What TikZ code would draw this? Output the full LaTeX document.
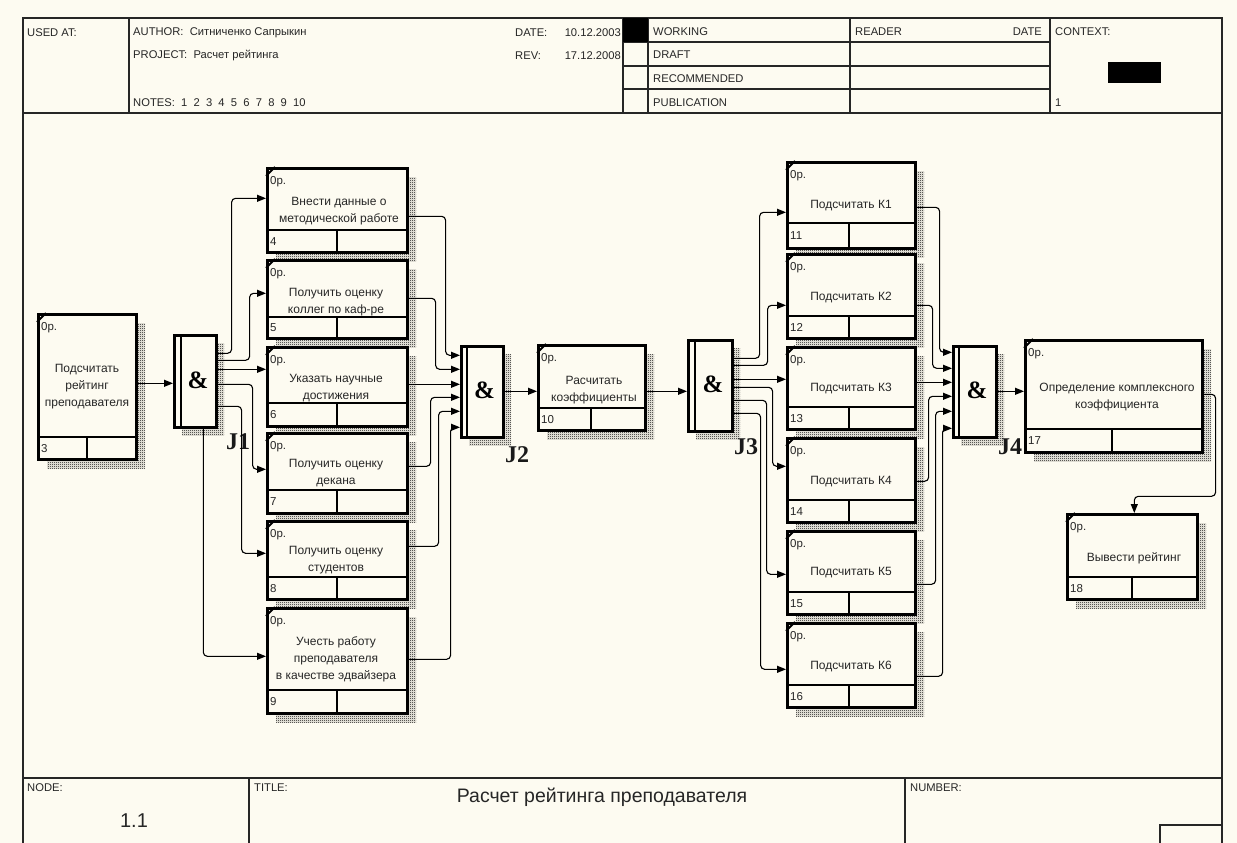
\documentclass[tikz,border=0pt]{standalone}
\usepackage{fontspec}
\setmainfont{Liberation Sans}
\newfontfamily\jserif{Liberation Serif}
\usetikzlibrary{arrows.meta,patterns}
\definecolor{bg}{HTML}{FDFBF1}
\newcommand{\lblfont}{\fontsize{12}{17}\selectfont}
\newcommand{\hdrfont}{\fontsize{11.2}{12}\selectfont}
\pgfdeclarepatternformonly{finechecker}{\pgfpointorigin}{\pgfpoint{2pt}{2pt}}{\pgfpoint{2pt}{2pt}}{%
  \pgfpathrectangle{\pgfpointorigin}{\pgfpoint{1pt}{1pt}}%
  \pgfpathrectangle{\pgfpoint{1pt}{1pt}}{\pgfpoint{1pt}{1pt}}%
  \pgfusepath{fill}}
\tikzset{
  frameline/.style={line width=1.3pt, draw=black!85},
  boxst/.style={draw, line width=2.6pt, fill=bg, inner sep=0pt, rectangle},
  inline/.style={line width=2.2pt},
  tickst/.style={line width=1.8pt},
  shadowpat/.style={pattern=finechecker, pattern color=black},
  conn/.style={line width=1.1pt, rounded corners=4pt, -{Triangle[length=9pt,width=7pt]}},
  lbl/.style={font=\lblfont, align=center, text=black!85, inner sep=0pt},
  smalltxt/.style={font=\fontsize{11.5}{12}\selectfont, text=black!85, inner sep=0pt},
  hdr/.style={font=\hdrfont, text=black!85, inner sep=0pt},
  amp/.style={font=\jserif\bfseries\fontsize{25}{25}\selectfont, inner sep=0pt},
  jlab/.style={font=\jserif\bfseries\fontsize{24}{24}\selectfont, inner sep=0pt, text=black!90},
}
% #1 name, #2 x0, #3 y0, #4 x1, #5 y1, #6 strip y, #7 divider x, #8 number
\newcommand{\idefbox}[8]{%
  \fill[shadowpat] (#2+10,#3+10) rectangle (#4+10,#5+10);
  \node[boxst, minimum width={(#4-#2)*1pt}, minimum height={(#5-#3)*1pt}, anchor=north west] (#1) at (#2,#3) {};
  \draw[inline] (#2,#6) -- (#4,#6) (#7,#6) -- (#7,#5);
  \draw[tickst] (#2,#3+9) -- (#2+9,#3);
  \node[smalltxt, anchor=west] (#1o) at (#2+4,#3+15) {0р.};
  \node[smalltxt, anchor=west] (#1n) at (#2+4,{(#6+#5)/2+1}) {#8};
}
% #1 name, #2 x0, #3 y0, #4 x1, #5 y1, #6 inner line x
\newcommand{\junction}[6]{%
  \fill[shadowpat] (#2+9,#3+9) rectangle (#4+9,#5+9);
  \node[boxst, minimum width={(#4-#2)*1pt}, minimum height={(#5-#3)*1pt}, anchor=north west] (#1) at (#2,#3) {};
  \draw[inline] (#6,#3) -- (#6,#5);
  \node[amp] (#1a) at ({(#6+#4)/2},{(#3+#5)/2}) {\&};
}
\begin{document}
\begin{tikzpicture}[x=1pt,y=-1pt]
\useasboundingbox (0,0) rectangle (1237,843);
\fill[bg] (0,0) rectangle (1237,843);
% ---------- frame ----------
\draw[frameline] (23,843) -- (23,18) -- (1222,18) -- (1222,843);
\draw[frameline] (23,113) -- (1222,113);
\draw[frameline] (129,18) -- (129,113);
\draw[frameline] (623,18) -- (623,113) (648,18) -- (648,113) (850,18) -- (850,113) (1050,18) -- (1050,113);
\draw[frameline] (623,42) -- (1050,42) (623,66) -- (1050,66) (623,89) -- (1050,89);
\fill (623,18) rectangle (648,42);
\fill (1108,62) rectangle (1161,83);
\draw[frameline] (23,778) -- (1222,778);
\draw[frameline] (249,778) -- (249,843) (905,778) -- (905,843);
\draw[frameline] (1160,843) -- (1160,825) -- (1222,825);
% ---------- header texts ----------
\node[hdr, anchor=west] (hused) at (27,33) {USED AT:};
\node[hdr, anchor=west] (hauth) at (133,33) {AUTHOR:\ \ Ситниченко Сапрыкин};
\node[hdr, anchor=west] (hproj) at (133,56) {PROJECT:\ \ Расчет рейтинга};
\node[hdr, anchor=west] (hnotes) at (133,103) {NOTES:\ \ 1\ \ 2\ \ 3\ \ 4\ \ 5\ \ 6\ \ 7\ \ 8\ \ 9\ \ 10};
\node[hdr, anchor=west] (hdate) at (515,33) {DATE:};
\node[hdr, anchor=east] (hdatev) at (621,33) {10.12.2003};
\node[hdr, anchor=west] (hrev) at (515,56) {REV:};
\node[hdr, anchor=east] (hrevv) at (621,56) {17.12.2008};
\node[hdr, anchor=west] (hwork) at (653,32) {WORKING};
\node[hdr, anchor=west] (hdraft) at (653,55) {DRAFT};
\node[hdr, anchor=west] (hrec) at (653,79) {RECOMMENDED};
\node[hdr, anchor=west] (hpub) at (653,103) {PUBLICATION};
\node[hdr, anchor=west] (hread) at (855,32) {READER};
\node[hdr, anchor=east] (hrdate) at (1042,32) {DATE};
\node[hdr, anchor=west] (hctx) at (1055,32) {CONTEXT:};
\node[hdr, anchor=west] (hctxn) at (1055,103) {1};
% ---------- footer texts ----------
\node[hdr, anchor=west] (fnode) at (27,788) {NODE:};
\node[font=\fontsize{20}{20}\selectfont, text=black!85, inner sep=0pt] (fnodev) at (134,821) {1.1};
\node[hdr, anchor=west] (ftitle) at (254,788) {TITLE:};
\node[font=\fontsize{19.5}{20}\selectfont, text=black!85, inner sep=0pt] (ftitlev) at (602,797) {Расчет рейтинга преподавателя};
\node[hdr, anchor=west] (fnum) at (910,788) {NUMBER:};
% ---------- activity boxes ----------
\idefbox{b3}{37}{313}{135}{458}{437}{87}{3}
\idefbox{b4}{266}{167}{406}{251}{230}{337}{4}
\idefbox{b5}{266}{259}{406}{337}{317}{337}{5}
\idefbox{b6}{266}{346}{406}{425}{403}{337}{6}
\idefbox{b7}{266}{432}{406}{512}{490}{337}{7}
\idefbox{b8}{266}{520}{406}{598}{577}{337}{8}
\idefbox{b9}{266}{607}{406}{712}{690}{337}{9}
\idefbox{b10}{537}{344}{644}{429}{408}{591}{10}
\idefbox{k1}{786}{161}{914}{247}{223}{849}{11}
\idefbox{k2}{786}{253}{914}{337}{316}{849}{12}
\idefbox{k3}{786}{346}{914}{428}{407}{849}{13}
\idefbox{k4}{786}{437}{914}{521}{500}{849}{14}
\idefbox{k5}{786}{530}{914}{613}{592}{849}{15}
\idefbox{k6}{786}{622}{914}{706}{685}{849}{16}
\idefbox{b17}{1024}{339}{1201}{451}{429}{1112}{17}
\idefbox{b18}{1066}{513}{1196}{598}{577}{1132}{18}
% ---------- box labels ----------
\node[lbl] (b3t) at (87,387) {Подсчитать\\рейтинг\\преподавателя};
\node[lbl] (b4t) at (339,211) {Внести данные о\\методической работе};
\node[lbl] (b5t) at (336,302) {Получить оценку\\коллег по каф-ре};
\node[lbl] (b6t) at (336,388.5) {Указать научные\\достижения};
\node[lbl] (b7t) at (336,473.5) {Получить оценку\\декана};
\node[lbl] (b8t) at (336,560) {Получить оценку\\студентов};
\node[lbl] (b9t) at (336,659.5) {Учесть работу\\преподавателя\\в качестве эдвайзера};
\node[lbl] (b10t) at (594,390) {Расчитать\\коэффициенты};
\node[lbl] (k1t) at (851,206) {Подсчитать К1};
\node[lbl] (k2t) at (851,298) {Подсчитать К2};
\node[lbl] (k3t) at (851,389) {Подсчитать К3};
\node[lbl] (k4t) at (851,482) {Подсчитать К4};
\node[lbl] (k5t) at (851,573) {Подсчитать К5};
\node[lbl] (k6t) at (851,666) {Подсчитать К6};
\node[lbl] (b17t) at (1117,397) {Определение комплексного\\коэффициента};
\node[lbl] (b18t) at (1134,558) {Вывести рейтинг};
% ---------- junctions ----------
\junction{j1}{173}{334}{215}{426}{181}
\junction{j2}{460}{345}{502}{436}{467}
\junction{j3}{687}{339}{731}{430}{695}
\junction{j4}{952}{345}{995}{436}{959}
\node[jlab] (j1l) at (238,442) {J1};
\node[jlab] (j2l) at (517,455) {J2};
\node[jlab] (j3l) at (746,447) {J3};
\node[jlab] (j4l) at (1010,447) {J4};
% ---------- connectors ----------
\draw[conn] ([yshift=3.5pt]b3.east) -- ([yshift=-2pt]j1.west);
\draw[conn] ([yshift=28pt]j1.east) -- ++(14,0) |- ([yshift=12pt]b4.west);
\draw[conn] ([yshift=21pt]j1.east) -- ++(32,0) |- ([yshift=6pt]b5.west);
\draw[conn] ([yshift=12pt]j1.east) -- ([yshift=17.5pt]b6.west);
\draw[conn] ([yshift=-3pt]j1.east) -- ++(35,0) |- ([yshift=4pt]b7.west);
\draw[conn] ([yshift=-25pt]j1.east) -- ++(24,0) |- ([yshift=7pt]b8.west);
\draw[conn] ([xshift=8pt]j1.south) |- ([yshift=4.5pt]b9.west);
\draw[conn] ([yshift=-6pt]b4.east) -- ++(37,0) |- ([yshift=36.5pt]j2.west);
\draw[conn] ([yshift=1pt]b5.east) -- ++(27,0) |- ([yshift=22.5pt]j2.west);
\draw[conn] ([yshift=2.5pt]b6.east) -- ([yshift=7.5pt]j2.west);
\draw[conn] ([yshift=7pt]b7.east) -- ++(22,0) |- ([yshift=-5.5pt]j2.west);
\draw[conn] ([yshift=14pt]b8.east) -- ++(30,0) |- ([yshift=-19.5pt]j2.west);
\draw[conn] ([yshift=1.5pt]b9.east) -- ++(42,0) |- ([yshift=-35.5pt]j2.west);
\draw[conn] ([yshift=0.5pt]j2.east) -- ([yshift=-3.5pt]b10.west);
\draw[conn] ([yshift=-3.5pt]b10.east) -- ([yshift=-5.5pt]j3.west);
\draw[conn] ([yshift=27.5pt]j3.east) -- ++(26,0) |- ([yshift=-7pt]k1.west);
\draw[conn] ([yshift=20.5pt]j3.east) -- ++(34,0) |- ([yshift=-9pt]k2.west);
\draw[conn] ([yshift=6.5pt]j3.east) -- ([yshift=9pt]k3.west);
\draw[conn] ([yshift=-1.5pt]j3.east) -- ++(39,0) |- ([yshift=14pt]k4.west);
\draw[conn] ([yshift=-14.5pt]j3.east) -- ++(33,0) |- ([yshift=-1.5pt]k5.west);
\draw[conn] ([yshift=-27.5pt]j3.east) -- ++(27,0) |- ([yshift=-4pt]k6.west);
\draw[conn] ([yshift=-2pt]k1.east) -- ++(23,0) |- ([yshift=39.5pt]j4.west);
\draw[conn] ([yshift=-9pt]k2.east) -- ++(16,0) |- ([yshift=23.5pt]j4.west);
\draw[conn] ([yshift=6pt]k3.east) -- ([yshift=9.5pt]j4.west);
\draw[conn] ([yshift=-1pt]k4.east) -- ++(12,0) |- ([yshift=-4.5pt]j4.west);
\draw[conn] ([yshift=-11.5pt]k5.east) -- ++(19,0) |- ([yshift=-19.5pt]j4.west);
\draw[conn] ([yshift=-11pt]k6.east) -- ++(26,0) |- ([yshift=-36.5pt]j4.west);
\draw[conn] ([yshift=0.5pt]j4.east) -- ([yshift=5pt]b17.west);
\draw[conn] ([yshift=2pt]b17.east) -- ++(12,0) -- ++(0,102) -| ([xshift=2pt]b18.north);
\end{tikzpicture}
\end{document}
